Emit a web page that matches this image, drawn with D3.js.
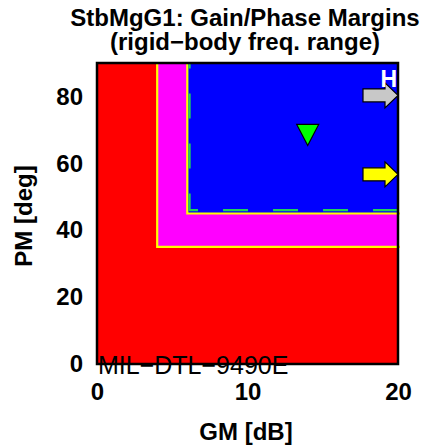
<!DOCTYPE html>
<html>
<head>
<meta charset="utf-8">
<script src="https://cdn.jsdelivr.net/npm/d3@7"></script>
<style>
  body { margin: 0; background: #fff; }
  text { font-family: "Liberation Sans", Arial, sans-serif; }
</style>
</head>
<body>
<div id="chart"></div>
<script>
// Datos
const titleLines = ["StbMgG1: Gain/Phase Margins", "(rigid\u2212body freq. range)"];
const gmTicks = [0, 10, 20];
const pmTicks = [0, 20, 40, 60, 80];
const gmDomain = [0, 20];
const pmDomain = [0, 90];

// regiones: falla / marginal / cumple (GM y PM minimos)
const regionGM = [0, 4, 6];
const regionPM = [0, 35, 45];
const regionFill = ["#ff0000", "#ff00ff", "#0000ff"];

// linea de requisito verde punteada
const reqGM = [6.15];
const reqPM = [46];

// punto en rango
const pointGM = [14.0];
const pointPM = [68.5];

// puntos fuera de escala (GM > 20) -> flechas
const offPM = [80.3, 56.7];
const offLabel = ["H", ""];
const offFill = ["#c8c8c8", "#ffff00"];

const specText = "MIL\u2212DTL\u22129490E";

const W = 429, H = 446;
const svg = d3.select("#chart").append("svg")
  .attr("width", W).attr("height", H);

const x = d3.scaleLinear().domain(gmDomain).range([97, 398]);
const y = d3.scaleLinear().domain(pmDomain).range([364, 63]);

// --- Regiones ---
svg.selectAll("rect.region")
  .data(regionGM)
  .enter().append("rect")
  .attr("class", "region")
  .attr("x", d => x(d))
  .attr("y", y(pmDomain[1]))
  .attr("width", d => x(gmDomain[1]) - x(d))
  .attr("height", (d, i) => y(regionPM[i]) - y(pmDomain[1]))
  .attr("fill", (d, i) => regionFill[i]);

// Bordes amarillos de regiones
regionGM.slice(1).forEach((gm, k) => {
  const pm = regionPM[k + 1];
  svg.append("path")
    .attr("d", `M${x(gm)},${y(pmDomain[1])} L${x(gm)},${y(pm)} L${x(gmDomain[1]) + 2},${y(pm)}`)
    .attr("fill", "none")
    .attr("stroke", "#ffff00")
    .attr("stroke-width", 2.2);
});

// Requisito verde punteado (empieza a la derecha)
svg.append("path")
  .attr("d", `M${x(gmDomain[1])},${y(reqPM[0])} L${x(reqGM[0])},${y(reqPM[0])} L${x(reqGM[0])},${y(pmDomain[1])}`)
  .attr("fill", "none")
  .attr("stroke", "#1fd35a")
  .attr("stroke-width", 2.2)
  .attr("stroke-dasharray", "25,25");

// --- Marco ---
svg.append("rect")
  .attr("x", x(gmDomain[0])).attr("y", y(pmDomain[1]))
  .attr("width", x(gmDomain[1]) - x(gmDomain[0]))
  .attr("height", y(pmDomain[0]) - y(pmDomain[1]))
  .attr("fill", "none")
  .attr("stroke", "#000")
  .attr("stroke-width", 2.5);

// --- Punto en rango (triangulo) ---
svg.selectAll("path.pt")
  .data(pointGM)
  .enter().append("path")
  .attr("class", "pt")
  .attr("transform", (d, i) => `translate(${x(d)},${y(pointPM[i])})`)
  .attr("d", "M-11,-10.5 L11,-10.5 L0,10.5 Z")
  .attr("fill", "#00ff00")
  .attr("stroke", "#000")
  .attr("stroke-width", 1.2);

// --- Flechas fuera de escala ---
const arrowPts = [[-35, -6.5], [-13, -6.5], [-13, -12.5], [0, 0], [-13, 12.5], [-13, 6.5], [-35, 6.5]];
offPM.forEach((pm, i) => {
  const g = svg.append("g")
    .attr("transform", `translate(${x(gmDomain[1])},${y(pm)})`);
  g.append("polygon")
    .attr("points", arrowPts.map(p => p.join(",")).join(" "))
    .attr("fill", offFill[i])
    .attr("stroke", "#000")
    .attr("stroke-width", 1.2);
  if (offLabel[i]) {
    g.append("text")
      .attr("x", -1).attr("y", -8)
      .attr("text-anchor", "end")
      .attr("font-size", 23).attr("font-weight", "bold")
      .attr("fill", "#fff")
      .text(offLabel[i]);
  }
});

// --- Ejes ---
const xAxis = svg.append("g")
  .attr("transform", `translate(0,${y(0)})`)
  .call(d3.axisBottom(x).tickValues(gmTicks).tickSize(0).tickPadding(19).tickFormat(d3.format("d")));
const yAxis = svg.append("g")
  .attr("transform", `translate(${x(0) - 14},0)`)
  .call(d3.axisLeft(y).tickValues(pmTicks).tickSize(0).tickPadding(0).tickFormat(d3.format("d")));
[xAxis, yAxis].forEach(a => {
  a.select(".domain").remove();
  a.selectAll("text")
    .attr("font-family", "Liberation Sans, Arial, sans-serif")
    .attr("font-size", 24)
    .attr("font-weight", "bold")
    .attr("fill", "#000");
});

// Texto de norma
svg.append("text")
  .attr("x", x(0) + 1).attr("y", 374)
  .attr("font-size", 25)
  .attr("fill", "#000")
  .text(specText);

// Etiquetas de eje
svg.append("text")
  .attr("x", 246).attr("y", 440)
  .attr("text-anchor", "middle")
  .attr("font-size", 24).attr("font-weight", "bold")
  .text("GM [dB]");
svg.append("text")
  .attr("transform", "translate(32,216) rotate(-90)")
  .attr("text-anchor", "middle")
  .attr("font-size", 24).attr("font-weight", "bold")
  .text("PM [deg]");

// Titulo
svg.selectAll("text.title")
  .data(titleLines)
  .enter().append("text")
  .attr("class", "title")
  .attr("x", 245)
  .attr("y", (d, i) => 26 + i * 24)
  .attr("text-anchor", "middle")
  .attr("font-size", 24).attr("font-weight", "bold")
  .text(d => d);
</script>
</body>
</html>
